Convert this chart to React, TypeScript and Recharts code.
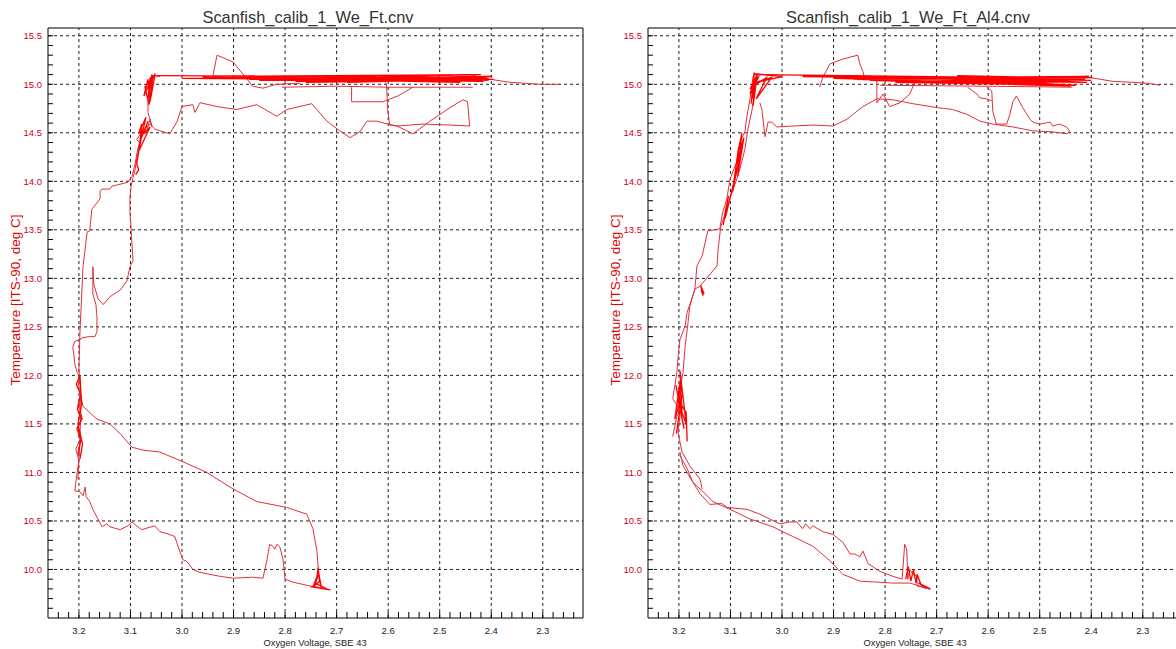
import { LineChart, Line, XAxis, YAxis, ReferenceLine } from 'recharts'

// each point: [oxygen voltage (V), temperature (deg C)]
type Pt = [number, number]

const xDomain: [number, number] = [2.222, 3.26]
const yDomain: [number, number] = [9.5, 15.58]

const xMajorTicks = [3.2, 3.1, 3.0, 2.9, 2.8, 2.7, 2.6, 2.5, 2.4, 2.3]
const xAllTicks = [
  3.24, 3.22, 3.2, 3.18, 3.16, 3.14, 3.12, 3.1, 3.08, 3.06, 3.04, 3.02, 3.0, 2.98, 2.96, 2.94, 2.92,
  2.9, 2.88, 2.86, 2.84, 2.82, 2.8, 2.78, 2.76, 2.74, 2.72, 2.7, 2.68, 2.66, 2.64, 2.62, 2.6, 2.58,
  2.56, 2.54, 2.52, 2.5, 2.48, 2.46, 2.44, 2.42, 2.4, 2.38, 2.36, 2.34, 2.32, 2.3, 2.28, 2.26, 2.24,
]
const yMajorTicks = [10.0, 10.5, 11.0, 11.5, 12.0, 12.5, 13.0, 13.5, 14.0, 14.5, 15.0, 15.5]
const yAllTicks = [
  9.6, 9.7, 9.8, 9.9, 10.0, 10.1, 10.2, 10.3, 10.4, 10.5, 10.6, 10.7, 10.8, 10.9, 11.0, 11.1, 11.2,
  11.3, 11.4, 11.5, 11.6, 11.7, 11.8, 11.9, 12.0, 12.1, 12.2, 12.3, 12.4, 12.5, 12.6, 12.7, 12.8,
  12.9, 13.0, 13.1, 13.2, 13.3, 13.4, 13.5, 13.6, 13.7, 13.8, 13.9, 14.0, 14.1, 14.2, 14.3, 14.4,
  14.5, 14.6, 14.7, 14.8, 14.9, 15.0, 15.1, 15.2, 15.3, 15.4, 15.5,
]

// ---------- left panel: Scanfish_calib_1_We_Ft.cnv ----------
const leftLowerTrack: Pt[] = [
  [3.208, 10.81], [3.198, 10.8], [3.192, 10.76], [3.188, 10.85], [3.186, 10.75], [3.179, 10.7],
  [3.173, 10.62], [3.163, 10.52], [3.155, 10.44], [3.146, 10.47], [3.14, 10.44], [3.12, 10.41],
  [3.105, 10.45], [3.097, 10.49], [3.088, 10.45], [3.078, 10.41], [3.066, 10.43], [3.053, 10.45],
  [3.043, 10.39], [3.029, 10.37], [3.014, 10.34], [3.008, 10.24], [2.998, 10.1], [2.99, 10.08],
  [2.979, 10.0], [2.965, 9.97], [2.927, 9.93], [2.901, 9.91], [2.863, 9.92], [2.843, 9.91],
  [2.835, 10.1], [2.83, 10.26], [2.824, 10.24], [2.82, 10.21], [2.816, 10.26], [2.81, 10.23],
  [2.804, 10.1], [2.8, 9.9], [2.785, 9.87], [2.752, 9.83], [2.738, 9.82], [2.719, 9.8], [2.713, 9.79],
]
const leftUpperTrack: Pt[] = [
  [3.196, 11.78], [3.192, 11.68], [3.165, 11.55], [3.14, 11.5], [3.12, 11.4], [3.097, 11.26],
  [3.076, 11.23], [3.043, 11.21], [2.998, 11.11], [2.952, 11.0], [2.901, 10.83], [2.855, 10.7],
  [2.797, 10.64], [2.758, 10.57], [2.746, 10.42], [2.738, 10.18], [2.735, 9.97], [2.733, 9.87],
  [2.73, 9.81],
]
const leftColumn: Pt[] = [
  [3.208, 10.81], [3.204, 10.98], [3.2, 11.12], [3.206, 11.24], [3.198, 11.34], [3.202, 11.47],
  [3.194, 11.57], [3.2, 11.67], [3.196, 11.78], [3.202, 11.88], [3.198, 11.98], [3.204, 12.04],
  [3.208, 12.12], [3.21, 12.22], [3.212, 12.29], [3.208, 12.35], [3.198, 12.37], [3.192, 12.39],
  [3.179, 12.4], [3.169, 12.4], [3.165, 12.45], [3.165, 12.6], [3.167, 12.73], [3.173, 12.84],
  [3.173, 12.99], [3.173, 13.12], [3.171, 12.94], [3.163, 12.79], [3.153, 12.73], [3.14, 12.81],
  [3.12, 12.88], [3.107, 12.97], [3.101, 13.12], [3.095, 13.18], [3.097, 13.35], [3.099, 13.53],
  [3.101, 13.69], [3.101, 13.84], [3.099, 13.94], [3.095, 14.04], [3.091, 14.12], [3.088, 14.23],
  [3.084, 14.33], [3.082, 14.4], [3.088, 14.43], [3.078, 14.51], [3.068, 14.52], [3.062, 14.64],
  [3.058, 14.56], [3.066, 14.71], [3.066, 14.85], [3.062, 14.97], [3.058, 15.09], [3.043, 15.08],
]
const leftOuter: Pt[] = [
  [3.202, 10.93], [3.198, 11.34], [3.196, 11.76], [3.2, 12.06], [3.198, 12.45], [3.196, 12.68],
  [3.192, 13.13], [3.188, 13.3], [3.184, 13.48], [3.179, 13.49], [3.175, 13.71], [3.159, 13.82],
  [3.159, 13.9], [3.155, 13.92], [3.14, 13.92], [3.136, 13.95], [3.105, 13.99], [3.097, 14.05],
  [3.091, 14.18], [3.086, 14.33], [3.08, 14.45], [3.072, 14.54], [3.062, 14.59], [3.053, 14.54],
  [3.043, 14.52], [3.024, 14.49], [3.01, 14.61], [3.0, 14.77], [2.979, 14.79], [2.975, 14.71],
  [2.965, 14.81], [2.932, 14.77], [2.894, 14.74], [2.855, 14.79], [2.816, 14.67], [2.797, 14.74],
  [2.748, 14.8], [2.719, 14.62], [2.694, 14.52], [2.674, 14.45], [2.655, 14.51], [2.641, 14.62],
  [2.622, 14.62], [2.601, 14.59], [2.583, 14.57], [2.552, 14.49], [2.539, 14.54], [2.519, 14.62],
  [2.48, 14.76], [2.455, 14.84], [2.446, 14.82], [2.442, 14.57], [2.48, 14.58], [2.533, 14.59],
  [2.583, 14.57], [2.597, 14.58], [2.601, 14.74], [2.603, 14.98], [2.605, 15.02],
]
const leftSpike: Pt[] = [
  [2.94, 15.09], [2.932, 15.3], [2.901, 15.23], [2.878, 15.08], [2.863, 14.98], [2.843, 14.96],
  [2.816, 15.0], [2.771, 15.01],
]
const leftLine97: Pt[] = [[2.806, 14.97], [2.7, 14.98], [2.6, 14.97], [2.436, 14.97]]
const leftBox: Pt[] = [[2.671, 14.97], [2.671, 14.82], [2.61, 14.82], [2.581, 14.88], [2.552, 14.97]]
const leftTail: Pt[] = [[2.4, 15.05], [2.364, 15.02], [2.335, 15.01], [2.306, 15.0], [2.267, 15.0]]

const leftBand: Pt[] = [
  [3.05, 15.09], [2.41, 15.07], [3.0, 15.06], [2.405, 15.04], [2.94, 15.08], [2.42, 15.1],
  [2.87, 15.05], [2.398, 15.08], [2.78, 15.03], [2.44, 15.06], [2.92, 15.07], [2.46, 15.02],
  [2.72, 15.09], [2.408, 15.05], [2.85, 15.04], [2.43, 15.08], [2.68, 15.02], [2.452, 15.05],
  [2.96, 15.07], [2.415, 15.03], [2.81, 15.06], [2.395, 15.05], [2.76, 15.02], [2.47, 15.04],
  [2.64, 15.08], [2.425, 15.03], [2.74, 15.06], [2.405, 15.06],
]
const leftTopCluster: Pt[] = [
  [3.066, 14.85], [3.062, 15.07], [3.064, 14.9], [3.058, 15.1], [3.068, 14.95], [3.06, 15.05],
  [3.072, 14.97], [3.064, 14.79], [3.056, 15.09], [3.074, 14.88], [3.066, 15.05], [3.062, 14.82],
  [3.052, 15.11], [3.064, 14.99],
]
const leftMidCluster: Pt[] = [
  [3.082, 14.38], [3.078, 14.59], [3.084, 14.49], [3.07, 14.66], [3.08, 14.43], [3.066, 14.62],
  [3.074, 14.49], [3.062, 14.56], [3.084, 14.31], [3.076, 14.54], [3.088, 14.18], [3.084, 14.12],
  [3.09, 14.07],
]
const leftLowCluster: Pt[] = [
  [3.202, 11.19], [3.196, 11.34], [3.204, 11.45], [3.194, 11.55], [3.203, 11.65], [3.197, 11.81],
  [3.205, 11.91], [3.198, 12.0], [3.195, 11.7], [3.202, 11.5], [3.193, 11.29], [3.198, 11.14],
]
const leftEndCluster: Pt[] = [
  [2.745, 9.83], [2.738, 9.93], [2.736, 10.02], [2.733, 9.88], [2.742, 9.84], [2.735, 9.96],
  [2.73, 9.83], [2.72, 9.8], [2.738, 9.85], [2.748, 9.82], [2.712, 9.79],
]

// ---------- right panel: Scanfish_calib_1_We_Ft_Al4.cnv ----------
const rightUpperTrack: Pt[] = [
  [3.198, 11.17], [3.184, 11.04], [3.173, 10.9], [3.159, 10.78], [3.14, 10.67], [3.117, 10.68],
  [3.107, 10.64], [3.068, 10.62], [3.043, 10.57], [3.024, 10.52], [3.004, 10.47], [2.985, 10.49],
  [2.971, 10.49], [2.96, 10.42], [2.954, 10.47], [2.946, 10.42], [2.94, 10.45], [2.921, 10.39],
  [2.901, 10.36], [2.882, 10.28], [2.868, 10.16], [2.859, 10.16], [2.849, 10.13], [2.843, 10.19],
  [2.839, 10.14], [2.833, 10.06], [2.81, 9.98], [2.785, 9.93], [2.767, 9.9], [2.762, 10.26],
  [2.758, 10.21], [2.756, 9.9], [2.752, 10.0], [2.746, 9.95], [2.738, 9.93], [2.738, 9.83],
  [2.719, 9.81], [2.713, 9.79],
]
const rightLowerTrack: Pt[] = [
  [3.198, 11.21], [3.192, 11.07], [3.173, 10.9], [3.153, 10.8], [3.134, 10.7], [3.101, 10.62],
  [3.062, 10.52], [3.018, 10.44], [2.979, 10.34], [2.94, 10.24], [2.907, 10.09], [2.882, 9.95],
  [2.849, 9.88], [2.816, 9.87], [2.785, 9.86], [2.752, 9.86], [2.733, 9.83], [2.719, 9.8],
]
const rightColumnA: Pt[] = [
  [3.155, 10.83], [3.159, 10.93], [3.179, 11.07], [3.194, 11.21], [3.202, 11.42], [3.198, 11.58],
  [3.202, 11.68], [3.212, 11.76], [3.208, 11.89], [3.204, 12.03], [3.202, 12.17], [3.198, 12.37],
  [3.188, 12.51], [3.184, 12.65], [3.175, 12.79], [3.169, 12.89], [3.159, 12.92], [3.126, 13.13],
  [3.124, 13.3], [3.12, 13.48], [3.12, 13.54], [3.115, 13.68], [3.107, 13.82], [3.101, 14.02],
  [3.088, 14.2], [3.082, 14.4], [3.072, 14.51], [3.068, 14.67], [3.062, 14.85], [3.056, 15.08],
  [3.053, 15.12],
]
const rightColumnB: Pt[] = [
  [3.212, 11.37], [3.204, 11.58], [3.194, 11.68], [3.198, 11.86], [3.192, 12.03], [3.188, 12.3],
  [3.183, 12.51], [3.179, 12.71], [3.169, 12.89], [3.165, 13.13], [3.155, 13.23], [3.144, 13.49],
  [3.12, 13.51], [3.111, 13.66], [3.101, 13.82], [3.091, 13.97], [3.082, 14.12], [3.072, 14.33],
  [3.066, 14.54], [3.058, 14.74], [3.053, 14.95],
]
const rightLoop: Pt[] = [
  [3.043, 14.81], [3.039, 14.74], [3.033, 14.46], [3.027, 14.61], [3.02, 14.61], [3.01, 14.56],
  [2.979, 14.57], [2.94, 14.58], [2.901, 14.57], [2.874, 14.64], [2.843, 14.77], [2.816, 14.85],
  [2.785, 14.84], [2.746, 14.8], [2.7, 14.76], [2.669, 14.74], [2.641, 14.69], [2.616, 14.62],
  [2.591, 14.59], [2.552, 14.56], [2.513, 14.52], [2.475, 14.51], [2.447, 14.49], [2.442, 14.52],
  [2.448, 14.56], [2.461, 14.59], [2.475, 14.57], [2.48, 14.61], [2.5, 14.59], [2.513, 14.61],
  [2.519, 14.64], [2.533, 14.76], [2.545, 14.88], [2.552, 14.82], [2.558, 14.69], [2.564, 14.59],
  [2.584, 14.59], [2.591, 14.72], [2.593, 14.93], [2.603, 14.97],
]
const rightBump: Pt[] = [
  [2.816, 15.07], [2.816, 14.81], [2.804, 14.9], [2.791, 14.77], [2.771, 14.81], [2.752, 14.9],
  [2.742, 15.03],
]
const rightHump: Pt[] = [
  [2.927, 14.97], [2.921, 15.07], [2.907, 15.21], [2.882, 15.26], [2.853, 15.3], [2.849, 15.21],
  [2.843, 15.13], [2.839, 15.05],
]
const rightLine99: Pt[] = [[2.81, 14.99], [2.6, 14.98], [2.437, 14.97]]
const rightSmallBox: Pt[] = [[2.64, 14.97], [2.622, 14.9], [2.616, 14.86], [2.603, 14.85], [2.593, 14.83]]
const rightTail: Pt[] = [[2.403, 15.07], [2.358, 15.03], [2.319, 15.02], [2.29, 15.01], [2.267, 14.99]]

const rightBand: Pt[] = [
  [3.053, 15.1], [2.41, 15.06], [2.96, 15.08], [2.4, 15.04], [2.87, 15.09], [2.42, 15.02],
  [2.8, 15.07], [2.405, 15.08], [2.72, 15.03], [2.45, 15.0], [2.86, 15.05], [2.415, 15.06],
  [2.66, 15.09], [2.44, 14.98], [2.83, 15.04], [2.408, 15.02], [2.6, 15.07], [2.47, 15.0],
  [2.9, 15.06], [2.412, 15.05], [2.78, 15.02], [2.43, 14.99], [2.7, 15.06], [2.398, 15.07],
]
const rightTopCluster: Pt[] = [
  [3.06, 14.8], [3.054, 15.12], [3.058, 14.85], [3.05, 15.08], [3.062, 14.95], [3.048, 15.1],
  [3.056, 14.78], [3.052, 15.05], [3.062, 14.9], [3.044, 15.09], [3.056, 14.98], [3.03, 15.07],
  [3.05, 14.85], [3.02, 15.07], [3.05, 15.02], [3.0, 15.08], [3.053, 15.11],
]
const rightMidCluster: Pt[] = [
  [3.088, 14.2], [3.078, 14.5], [3.086, 14.05], [3.074, 14.45], [3.09, 14.15], [3.08, 14.3],
  [3.094, 13.95], [3.076, 14.4], [3.084, 14.35], [3.096, 13.9], [3.082, 14.25], [3.11, 13.62],
  [3.104, 13.85], [3.114, 13.55], [3.108, 13.75],
]
const rightKinkCluster: Pt[] = [[3.157, 12.88], [3.153, 12.82], [3.158, 12.93], [3.151, 12.84]]
const rightLowCluster: Pt[] = [
  [3.205, 11.4], [3.194, 11.8], [3.208, 11.55], [3.196, 12.0], [3.2, 11.7], [3.19, 11.45],
  [3.206, 11.9], [3.194, 11.6], [3.198, 12.05], [3.186, 11.5], [3.203, 11.75], [3.186, 11.62],
  [3.184, 11.32],
]
const rightEndCluster: Pt[] = [
  [2.76, 9.9], [2.755, 10.03], [2.75, 9.88], [2.745, 10.0], [2.74, 9.86], [2.738, 9.95],
  [2.73, 9.84], [2.72, 9.81], [2.735, 9.86], [2.712, 9.8],
]

const FONT = '"Liberation Sans", Arial, sans-serif'
const THIN = '#e0303c'
const DENSE = '#ff0000'

const isMajor = (v: number, majors: number[]) => majors.some((m) => Math.abs(m - v) < 1e-6)
const toRows = (seg: Pt[]) => seg.map(([v, t]) => ({ v, t }))

interface PanelProps {
  left: number
  title: string
  thin: Pt[][]
  dense: Pt[][]
}

function Panel({ left, title, thin, dense }: PanelProps) {
  return (
    <div style={{ position: 'absolute', left, top: 0, width: 600, height: 649 }}>
      <div
        style={{
          position: 'absolute', left: 308, top: 9, transform: 'translateX(-50%)',
          fontSize: 16.4, lineHeight: 1, color: '#333', whiteSpace: 'nowrap', fontFamily: FONT,
        }}
      >
        {title}
      </div>
      <LineChart width={600} height={649} margin={{ top: 28, right: 17, bottom: 0, left: 8 }}>
        <XAxis
          type="number"
          dataKey="v"
          domain={xDomain}
          reversed
          allowDataOverflow
          ticks={xAllTicks}
          interval={0}
          height={31}
          tickSize={-6}
          tickMargin={15}
          tickFormatter={(v: number) => (isMajor(v, xMajorTicks) ? v.toFixed(1) : '')}
          tick={{ fill: '#222', fontSize: 9.5, fontFamily: FONT }}
          axisLine={{ stroke: '#000' }}
          tickLine={{ stroke: '#000' }}
        />
        <YAxis
          type="number"
          domain={yDomain}
          allowDataOverflow
          ticks={yAllTicks}
          interval={0}
          width={40}
          tickSize={-5}
          tickMargin={11}
          tickFormatter={(v: number) => (isMajor(v, yMajorTicks) ? v.toFixed(1) : '')}
          tick={{ fill: '#d0001c', fontSize: 9.5, fontFamily: FONT }}
          axisLine={{ stroke: '#000' }}
          tickLine={{ stroke: '#000' }}
        />
        {xMajorTicks.map((v) => (
          <ReferenceLine key={'gx' + v} x={v} stroke="#222" strokeDasharray="3 3" />
        ))}
        {yMajorTicks.map((v) => (
          <ReferenceLine key={'gy' + v} y={v} stroke="#222" strokeDasharray="3 3" />
        ))}
        <ReferenceLine y={yDomain[1]} stroke="#000" />
        <ReferenceLine x={xDomain[0]} stroke="#000" />
        {thin.map((seg, i) => (
          <Line
            key={'t' + i}
            data={toRows(seg)}
            dataKey="t"
            type="linear"
            stroke={THIN}
            strokeWidth={1}
            dot={false}
            activeDot={false}
            isAnimationActive={false}
          />
        ))}
        {dense.map((seg, i) => (
          <Line
            key={'d' + i}
            data={toRows(seg)}
            dataKey="t"
            type="linear"
            stroke={DENSE}
            strokeWidth={1.3}
            dot={false}
            activeDot={false}
            isAnimationActive={false}
          />
        ))}
      </LineChart>
      <div
        style={{
          position: 'absolute', left: 16, top: 300, transform: 'translate(-50%, -50%) rotate(-90deg)',
          fontSize: 13.5, color: '#e00000', whiteSpace: 'nowrap', fontFamily: FONT, lineHeight: 1,
        }}
      >
        Temperature [ITS-90, deg C]
      </div>
      <div
        style={{
          position: 'absolute', left: 315, top: 638, transform: 'translateX(-50%)',
          fontSize: 9.4, color: '#222', whiteSpace: 'nowrap', fontFamily: FONT, lineHeight: 1,
        }}
      >
        Oxygen Voltage, SBE 43
      </div>
    </div>
  )
}

export default function App() {
  return (
    <div
      style={{
        position: 'absolute', left: 0, top: 0, width: 1176, height: 649,
        overflow: 'hidden', background: '#fff',
      }}
    >
      <Panel
        left={0}
        title="Scanfish_calib_1_We_Ft.cnv"
        thin={[leftLowerTrack, leftUpperTrack, leftColumn, leftOuter, leftSpike, leftLine97, leftBox, leftTail]}
        dense={[leftBand, leftTopCluster, leftMidCluster, leftLowCluster, leftEndCluster]}
      />
      <Panel
        left={600}
        title="Scanfish_calib_1_We_Ft_Al4.cnv"
        thin={[
          rightUpperTrack, rightLowerTrack, rightColumnA, rightColumnB, rightLoop, rightBump,
          rightHump, rightLine99, rightSmallBox, rightTail,
        ]}
        dense={[rightBand, rightTopCluster, rightMidCluster, rightKinkCluster, rightLowCluster, rightEndCluster]}
      />
    </div>
  )
}
